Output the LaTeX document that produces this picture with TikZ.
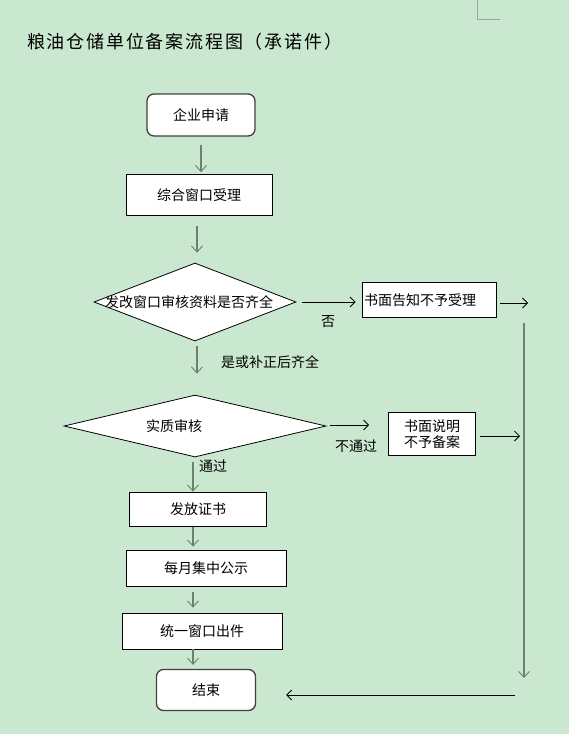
\documentclass[tikz,border=0pt]{standalone}
\usepackage{fontspec}
\setmainfont{Noto Sans CJK SC}
\usepackage{xcolor}
\usepackage{tikz}
\usetikzlibrary{shapes.geometric, arrows.meta, positioning}

\definecolor{pagegreen}{RGB}{202,232,207}
\definecolor{linegray}{RGB}{108,128,110}
\definecolor{markgray}{RGB}{150,168,152}

\begin{document}
\begin{tikzpicture}[
  x=1pt, y=-1pt,
  font=\fontsize{14pt}{16pt}\selectfont,
  box/.style={rectangle, draw=black, line width=0.8pt, fill=white, align=center, inner sep=2pt},
  roundbox/.style={rectangle, rounded corners=7pt, draw=black!75, line width=1.3pt, fill=white, align=center},
  decision/.style={diamond, draw=black, line width=0.8pt, fill=white, inner sep=0pt},
  garrow/.style={draw=linegray, line width=1.5pt, -{Straight Barb[length=6pt,width=11pt,line width=0.9pt]}},
  karrow/.style={draw=black, line width=0.8pt, -{Straight Barb[length=5pt,width=10pt]}},
  tag/.style={inner sep=0pt}
]

% page
\fill[pagegreen] (0,0) rectangle (569,734);
\useasboundingbox (0,0) rectangle (569,734);
\draw[markgray, line width=0.8pt] (477,0) -- (477,19) -- (500,19);

% title
\node (title) [tag, anchor=west] at (27,42)
  {\fontsize{18pt}{20pt}\selectfont\addfontfeature{LetterSpace=10}粮油仓储单位备案流程图（承诺件）};

% main column
\node (apply) [roundbox, minimum width=108pt, minimum height=42pt] at (201,115) {企业申请};
\node (accept) [box, minimum width=146pt, minimum height=41pt] at (199,195) {综合窗口受理};
\node (review) [decision, minimum width=202pt, minimum height=78pt] at (195,302)
  {\makebox[0pt]{发改窗口审核资料是否齐全\hspace{12pt}}};
\node (check) [decision, minimum width=262pt, minimum height=62pt] at (195,426)
  {\makebox[0pt]{实质审核\hspace{42pt}}};
\node (issue) [box, minimum width=137pt, minimum height=34pt] at (198,509) {发放证书};
\node (notice) [box, minimum width=160pt, minimum height=36pt] at (206,568) {每月集中公示};
\node (deliver) [box, minimum width=160pt, minimum height=36pt] at (202,631) {统一窗口出件};
\node (finish) [roundbox, minimum width=99pt, minimum height=41pt] at (206,690) {结束};

% side boxes
\node (refuse) [box, text width=130pt, align=left, minimum height=35pt] at (429,300) {书面告知不予受理};
\node (reject) [box, minimum width=87pt, minimum height=43pt, inner sep=1pt] at (432,434)
  {\fontsize{14pt}{19pt}\selectfont 书面说明\\不予备案};

% free ends on the right
\coordinate (out1) at (528,303);
\coordinate (out2) at (520,436);
\coordinate (railtop) at (524,323);
\coordinate (railbot) at (524,678);
\coordinate (back) at (515,695);

% labels
\node (no1) [tag] at (328,322) {否};
\node (yes1) [tag] at (270,362) {是或补正后齐全};
\node (no2) [tag] at (356,446) {不通过};
\node (yes2) [tag] at (213,466) {通过};

% connectors
\draw [garrow, shorten <=8pt, shorten >=2pt] (apply.south) -- (apply.south |- accept.north);
\draw [garrow, shorten <=10pt, shorten >=10pt] ([xshift=-2pt]accept.south) -- ([xshift=-2pt]accept.south |- review.north);
\draw [karrow, shorten <=6pt, shorten >=6pt] (review.east) -- (review.east -| refuse.west);
\draw [karrow, shorten <=4pt] (refuse.east |- out1) -- (out1);
\draw [garrow, shorten <=5pt, shorten >=21pt] ([xshift=2pt]review.south) -- ([xshift=2pt]review.south |- check.north);
\draw [karrow, shorten <=4pt, shorten >=19pt] ([yshift=1pt]check.east) -- ([yshift=1pt]check.east -| reject.west);
\draw [karrow, shorten <=4pt] (reject.east |- out2) -- (out2);
\draw [garrow] (railtop) -- (railbot);
\draw [garrow, shorten <=5pt] ([xshift=-2pt]check.south) -- ([xshift=-2pt]check.south |- issue.north);
\draw [garrow, shorten <=1pt, shorten >=3pt] ([xshift=-5pt]issue.south) -- ([xshift=-5pt]issue.south |- notice.north);
\draw [garrow, shorten <=6pt, shorten >=5pt] ([xshift=-5pt]issue.south |- notice.south) -- ([xshift=-5pt]issue.south |- deliver.north);
\draw [garrow, shorten >=4pt] ([xshift=-5pt]issue.south |- deliver.south) -- ([xshift=-5pt]issue.south |- finish.north);
\draw [karrow, shorten >=30pt] (back) -- (back -| finish.east);

\end{tikzpicture}
\end{document}
